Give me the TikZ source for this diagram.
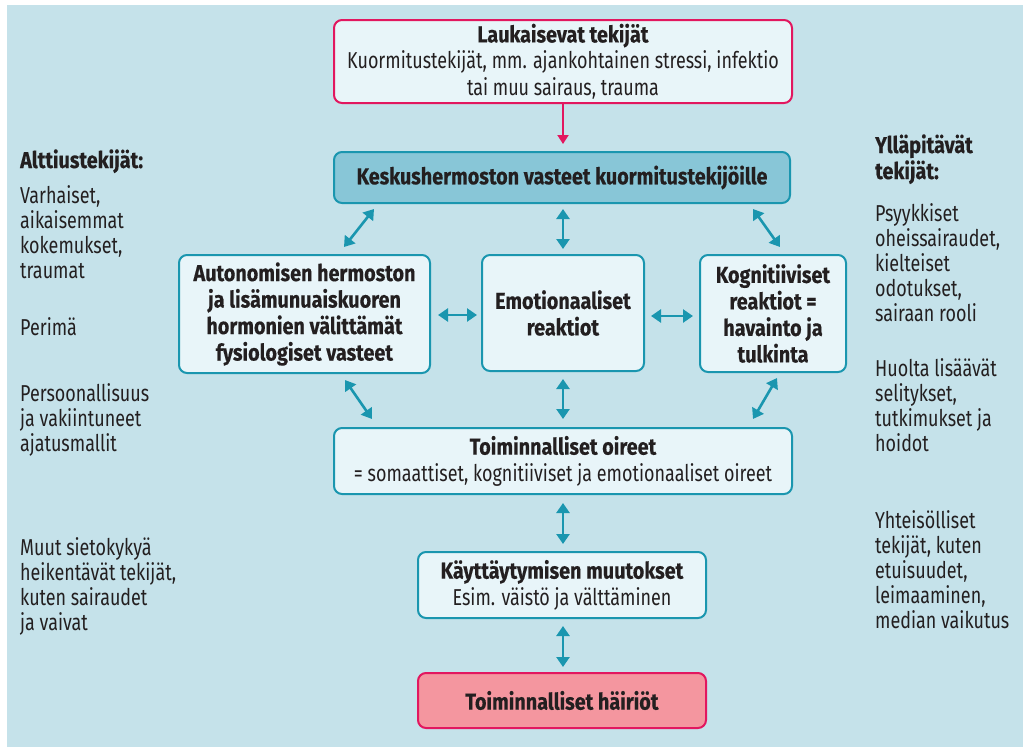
\documentclass[tikz,border=0pt]{standalone}
\usepackage{fontspec}
\setmainfont[FakeStretch=0.78,BoldFeatures={FakeStretch=0.86,FakeBold=0.4}]{Fira Sans}
\usetikzlibrary{arrows.meta,calc}
\definecolor{bgblue}{HTML}{C5E2EA}
\definecolor{boxfill}{HTML}{E8F5F9}
\definecolor{teal}{HTML}{1A96AF}
\definecolor{cnsfill}{HTML}{88C6D7}
\definecolor{pinkline}{HTML}{E2175F}
\definecolor{pinkfill}{HTML}{F4969F}
\definecolor{ink}{HTML}{231F20}
\begin{document}
\begin{tikzpicture}[x=1pt,y=-1pt,
  box/.style={draw=teal,fill=boxfill,line width=2pt,rounded corners=8pt,align=center,
    inner sep=0pt,text=ink,font=\fontsize{23}{26.5}\selectfont},
  dbl/.style={draw=teal,line width=2.6pt,{Triangle[length=10pt,width=13pt]}-{Triangle[length=10pt,width=13pt]}},
  side/.style={anchor=base west,inner sep=0pt,text=ink,font=\fontsize{23}{25}\selectfont},
  sidehead/.style={side,font=\fontsize{23}{25}\selectfont\bfseries}
]
\useasboundingbox (0,0) rectangle (1023,747);
\fill[bgblue] (7,5) rectangle (1023,747);

\node[box,draw=pinkline,fill=boxfill,minimum width=458pt,minimum height=83pt] (top) at (563,61.5)
  {\textbf{Laukaisevat tekijät}\\Kuormitustekijät, mm. ajankohtainen stressi, infektio\\tai muu sairaus, trauma};
\node[box,fill=cnsfill,minimum width=456pt,minimum height=51pt] (cns) at (562,177.5)
  {\textbf{Keskushermoston vasteet kuormitustekijöille}};
\node[box,minimum width=251pt,minimum height=118pt] (auto) at (304.5,314)
  {\textbf{Autonomisen hermoston}\\\textbf{ja lisämunuaiskuoren}\\\textbf{hormonien välittämät}\\\textbf{fysiologiset vasteet}};
\node[box,minimum width=162pt,minimum height=116pt] (emo) at (563,313)
  {\textbf{Emotionaaliset}\\\textbf{reaktiot}};
\node[box,minimum width=146pt,minimum height=117pt] (kog) at (773,313.5)
  {\textbf{Kognitiiviset}\\\textbf{reaktiot =}\\\textbf{havainto ja}\\\textbf{tulkinta}};
\node[box,minimum width=458pt,minimum height=66pt] (oir) at (563,461)
  {\textbf{Toiminnalliset oireet}\\= somaattiset, kognitiiviset ja emotionaaliset oireet};
\node[box,minimum width=288pt,minimum height=66pt] (kay) at (562,585)
  {\textbf{Käyttäytymisen muutokset}\\Esim. väistö ja välttäminen};
\node[box,draw=pinkline,fill=pinkfill,minimum width=288pt,minimum height=55pt] (hai) at (562,700.5)
  {\textbf{Toiminnalliset häiriöt}};

% arrows
\draw[draw=pinkline,line width=2pt,-{Triangle[length=9pt,width=11pt]},shorten >=7pt] (top.south) -- (top.south |- cns.north);
\draw[dbl] ($(cns.south west)+(41,5)$) -- ($(auto.north)+(39.5,-7)$);
\draw[dbl] ($(cns.south)+(1,5)$) -- ($(emo.north)+(0,-5)$);
\draw[dbl] ($(cns.south east)+(-38,5)$) -- ($(kog.north)+(7,-7)$);
\draw[dbl] ($(auto.east)+(7,1)$) -- ($(emo.west)+(-4,2)$);
\draw[dbl] ($(emo.east)+(6,3)$) -- ($(kog.west)+(-6,2.5)$);
\draw[dbl] ($(auto.south)+(40.5,6)$) -- ($(oir.north west)+(39,-8)$);
\draw[dbl] ($(emo.south)+(0,7)$) -- ($(oir.north)+(0,-8)$);
\draw[dbl] ($(kog.south)+(4,5)$) -- ($(oir.north east)+(-40,-8)$);
\draw[dbl] ($(oir.south)+(0,8)$) -- ($(kay.north)+(1,-7)$);
\draw[dbl] ($(kay.south)+(1,7)$) -- ($(hai.north)+(1,-5)$);

% left column
\node[sidehead] (lh) at (20,168) {Alttiustekijät:};
\foreach \t [count=\i] in {{Varhaiset,},aikaisemmat,{kokemukset,},traumat}
  \node[side] (la\i) at (20,{203+25*(\i-1)}) {\t};
\node[side] (lb1) at (20,335) {Perimä};
\foreach \t [count=\i] in {Persoonallisuus,ja vakiintuneet,ajatusmallit}
  \node[side] (lc\i) at (20,{401+25*(\i-1)}) {\t};
\foreach \t [count=\i] in {Muut sietokykyä,{heikentävät tekijät,},kuten sairaudet,ja vaivat}
  \node[side] (ld\i) at (20,{555+25*(\i-1)}) {\t};

% right column
\node[sidehead] (rh1) at (875,153) {Ylläpitävät};
\node[sidehead] (rh2) at (875,179) {tekijät:};
\foreach \t [count=\i] in {Psyykkiset,{oheissairaudet,},kielteiset,{odotukset,},sairaan rooli}
  \node[side] (ra\i) at (875,{221+25*(\i-1)}) {\t};
\foreach \t [count=\i] in {Huolta lisäävät,{selitykset,},tutkimukset ja,hoidot}
  \node[side] (rb\i) at (875,{376+25*(\i-1)}) {\t};
\foreach \t [count=\i] in {Yhteisölliset,{tekijät, kuten},{etuisuudet,},{leimaaminen,},median vaikutus}
  \node[side] (rc\i) at (875,{528+25*(\i-1)}) {\t};
\end{tikzpicture}
\end{document}
